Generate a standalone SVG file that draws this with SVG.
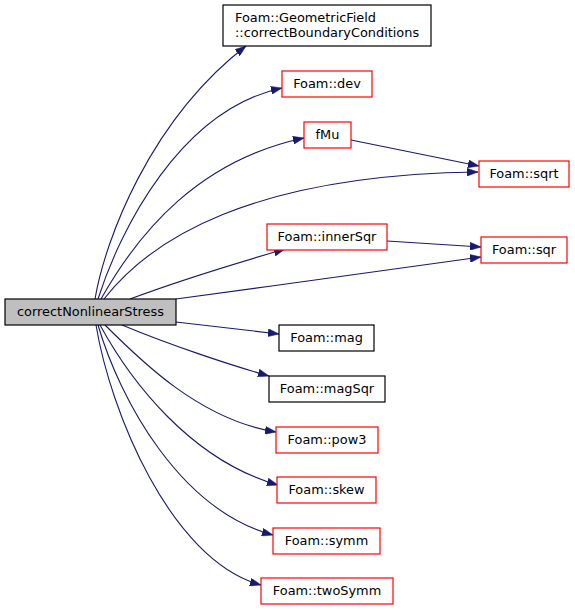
<svg xmlns="http://www.w3.org/2000/svg" width="575" height="610" viewBox="0 0 575 610">
<style>
.n rect{fill:#ffffff;stroke-width:1.2}
.red rect{stroke:#ff0000}
.blk rect{stroke:#000000}
.main rect{fill:#bfbfbf;stroke:#000000}
text{font-family:"DejaVu Sans",sans-serif;font-size:12.9px;fill:#000000;text-anchor:middle}
.e path{fill:none;stroke:#191970;stroke-width:1.1;marker-end:url(#ah)}
</style>
<defs>
<marker id="ah" markerUnits="userSpaceOnUse" markerWidth="11" markerHeight="8" refX="11" refY="4" orient="auto">
<path d="M0,0 L11,4 L0,8 z" fill="#191970" stroke="#191970" stroke-width="0.5"/>
</marker>
</defs>
<rect width="575" height="610" fill="#ffffff"/>
<g id="edges" class="e">
<path d="M95,299 C105,240 150,120 246,46"/>
<path d="M98,299 C120,230 180,110 282,88"/>
<path d="M101,299 C140,230 200,160 304,138"/>
<path d="M104,299 C150,240 250,175 478,172"/>
<path d="M130,299 C170,284 230,265 285,249"/>
<path d="M176,299 C280,285 400,268 481,257"/>
<path d="M351,140 L479,166"/>
<path d="M387,241 L481,247"/>
<path d="M176,322 L279,334"/>
<path d="M122,325 C170,345 230,365 269,376"/>
<path d="M105,325 C140,360 200,420 276,432"/>
<path d="M100,325 C130,380 190,460 278,485"/>
<path d="M98,325 C120,400 180,510 273,535"/>
<path d="M96,325 C110,410 170,560 261,585"/>
</g>
<g id="correctNonlinearStress" class="n main"><rect x="5" y="299" width="171" height="26"/><text x="90.5" y="316">correctNonlinearStress</text></g>
<g id="GeometricField" class="n blk"><rect x="223" y="5" width="208" height="41"/><text x="235" y="21.5" style="text-anchor:start">Foam::GeometricField</text><text x="235" y="36.5" style="text-anchor:start">::correctBoundaryConditions</text></g>
<g id="dev" class="n red"><rect x="282" y="71" width="90" height="26"/><text x="327" y="88">Foam::dev</text></g>
<g id="fMu" class="n red"><rect x="304" y="122" width="47" height="26"/><text x="327.5" y="139">fMu</text></g>
<g id="sqrt" class="n red"><rect x="479" y="161" width="90" height="26"/><text x="524" y="178">Foam::sqrt</text></g>
<g id="innerSqr" class="n red"><rect x="267" y="224" width="120" height="26"/><text x="327" y="241">Foam::innerSqr</text></g>
<g id="sqr" class="n red"><rect x="481" y="237" width="86" height="26"/><text x="524" y="254">Foam::sqr</text></g>
<g id="mag" class="n blk"><rect x="279" y="325" width="95" height="26"/><text x="326.5" y="342">Foam::mag</text></g>
<g id="magSqr" class="n blk"><rect x="269" y="376" width="116" height="26"/><text x="327" y="393">Foam::magSqr</text></g>
<g id="pow3" class="n red"><rect x="276" y="427" width="102" height="26"/><text x="327" y="444">Foam::pow3</text></g>
<g id="skew" class="n red"><rect x="277" y="477" width="99" height="26"/><text x="326.5" y="494">Foam::skew</text></g>
<g id="symm" class="n red"><rect x="273" y="528" width="107" height="26"/><text x="326.5" y="545">Foam::symm</text></g>
<g id="twoSymm" class="n red"><rect x="261" y="578" width="132" height="26"/><text x="327" y="595">Foam::twoSymm</text></g>
</svg>
